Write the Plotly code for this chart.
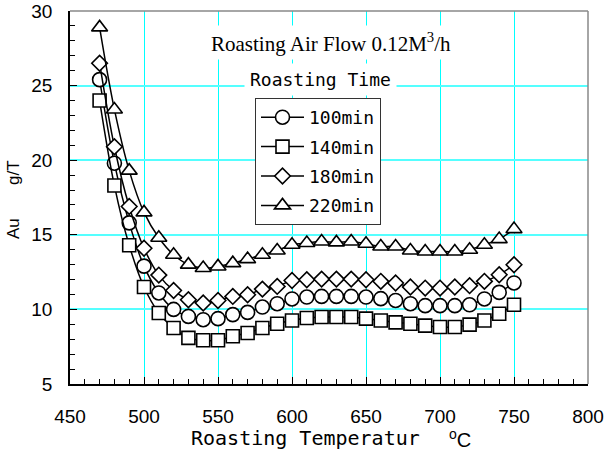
import plotly.graph_objects as go

temps = [470, 480, 490, 500, 510, 520, 530, 540, 550, 560, 570, 580, 590, 600,
         610, 620, 630, 640, 650, 660, 670, 680, 690, 700, 710, 720, 730, 740, 750]

au_100 = [25.4, 19.8, 15.8, 12.9, 11.1, 10.0, 9.53, 9.31, 9.38, 9.65, 9.8, 10.16, 10.38, 10.7,
          10.83, 10.87, 10.87, 10.87, 10.83, 10.72, 10.6, 10.38, 10.25, 10.25, 10.25, 10.31, 10.7, 11.14, 11.77]
au_140 = [24.0, 18.3, 14.3, 11.5, 9.76, 8.75, 8.09, 7.93, 7.93, 8.2, 8.42, 8.75, 9.04, 9.26,
          9.42, 9.49, 9.49, 9.49, 9.38, 9.26, 9.13, 9.04, 8.91, 8.82, 8.82, 8.98, 9.26, 9.71, 10.31]
au_180 = [26.5, 20.9, 16.9, 14.1, 12.3, 11.27, 10.65, 10.43, 10.6, 10.87, 10.98, 11.36, 11.54, 11.94,
          11.99, 12.03, 12.03, 12.03, 11.99, 11.88, 11.77, 11.5, 11.43, 11.43, 11.5, 11.59, 11.88, 12.32, 12.99]
au_220 = [28.9, 23.4, 19.3, 16.5, 14.8, 13.66, 13.0, 12.77, 12.88, 13.1, 13.37, 13.66, 13.95, 14.33,
          14.45, 14.55, 14.49, 14.55, 14.4, 14.22, 14.22, 13.95, 13.88, 13.88, 13.88, 14.0, 14.33, 14.71, 15.38]

series_names = ["100min", "140min", "180min", "220min"]
series_values = [au_100, au_140, au_180, au_220]
series_symbols = ["circle", "square", "diamond", "triangle-up"]
series_sizes = [14, 13, 12, 14]

x_ticks = [450, 500, 550, 600, 650, 700, 750, 800]
y_ticks = [5, 10, 15, 20, 25, 30]

fig = go.Figure()
for name, vals, sym, sz in zip(series_names, series_values, series_symbols, series_sizes):
    fig.add_trace(go.Scatter(
        x=temps, y=vals, name=name, mode="lines+markers",
        legendgroup=name,
        line=dict(color="black", width=1.5, shape="spline", smoothing=1.0),
        marker=dict(symbol=sym, size=sz, color="white",
                    line=dict(color="black", width=1.6)),
    ))

sans = "Liberation Sans, Arial, sans-serif"
mono = "DejaVu Sans Mono, monospace"
tick_font = dict(family=sans, size=19, color="black")

L, R, T, B = 70, 18, 11, 66
PW, PH = 606 - L - R, 450 - T - B


def px_x(px):
    return (px - L) / PW


def px_y(py):
    return (450 - B - py) / PH


def note(text, cx, cy, font, angle=0, bg=None, pad=1):
    d = dict(text=text, xref="paper", yref="paper", x=px_x(cx), y=px_y(cy),
             xanchor="center", yanchor="middle", showarrow=False,
             textangle=angle, font=font, borderpad=pad)
    if bg:
        d["bgcolor"] = bg
    return d


fig.update_layout(
    width=606, height=450,
    margin=dict(l=L, r=R, t=T, b=B, autoexpand=False),
    paper_bgcolor="white", plot_bgcolor="white",
    showlegend=True,
    legend=dict(
        x=px_x(255), y=px_y(98), xanchor="left", yanchor="top",
        bgcolor="white", bordercolor="#333333", borderwidth=1,
        font=dict(family=mono, size=18, color="black"),
        tracegroupgap=3, itemwidth=43,
    ),
    xaxis=dict(
        range=[450, 800], tickvals=x_ticks, ticktext=[str(v) for v in x_ticks],
        showgrid=True, gridcolor="#00FFFF", gridwidth=1,
        ticks="inside", ticklen=7, tickcolor="black",
        minor=dict(dtick=10, ticks="inside", ticklen=5, tickcolor="black", showgrid=False),
        showline=True, linecolor="black", linewidth=1.5, mirror=False,
        tickfont=tick_font, ticklabelstandoff=14, zeroline=False,
    ),
    yaxis=dict(
        range=[5, 30], tickvals=y_ticks, ticktext=[str(v) for v in y_ticks],
        showgrid=True, gridcolor="#55FFFF", gridwidth=2,
        ticks="inside", ticklen=7, tickcolor="black",
        minor=dict(dtick=1, ticks="inside", ticklen=5, tickcolor="black", showgrid=False),
        showline=True, linecolor="black", linewidth=1.5, mirror=False,
        tickfont=tick_font, ticklabelstandoff=12, zeroline=False,
    ),
    shapes=[
        dict(type="line", xref="paper", yref="paper", x0=0, x1=1, y0=1, y1=1,
             line=dict(color="#888888", width=1.5)),
        dict(type="line", xref="paper", yref="paper", x0=1, x1=1, y0=0, y1=1,
             line=dict(color="#888888", width=1.5)),
    ],
    annotations=[
        note("Roasting Air Flow 0.12M<sup>3</sup>/h", 331, 43,
             dict(family="Liberation Serif, Times New Roman, serif", size=21, color="black"),
             bg="white", pad=3),
        note("Roasting Time", 320.5, 79, dict(family=mono, size=18, color="black"),
             bg="white", pad=5),
        note("Roasting Temperatur", 305, 438, dict(family=mono, size=20, color="black")),
        note("<sup>o</sup>C", 460, 438, dict(family=sans, size=20, color="black")),
        note("Au", 14, 229, dict(family=sans, size=17, color="black"), angle=-90),
        note("g/T", 14, 173, dict(family=sans, size=17, color="black"), angle=-90),
    ],
)

fig.write_html("out.html")
